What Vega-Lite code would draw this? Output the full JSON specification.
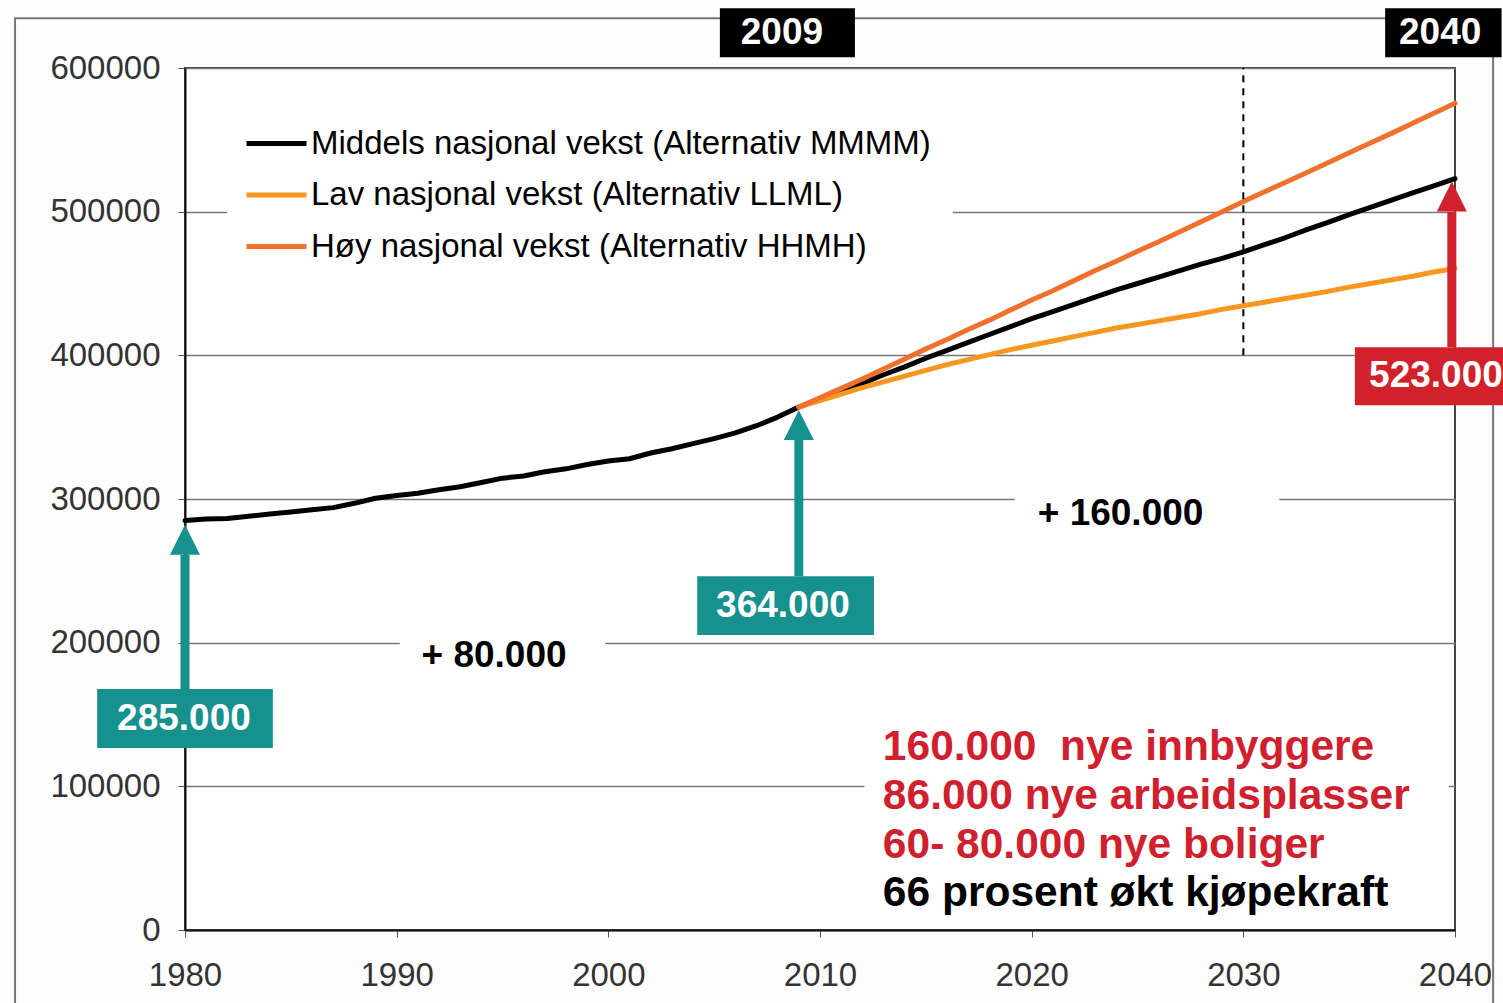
{
  "$schema": "https://vega.github.io/schema/vega-lite/v6.json",
  "width": 1270,
  "height": 862,
  "autosize": {"type": "none"},
  "padding": {"left": 185, "top": 68, "right": 48, "bottom": 73},
  "background": "#fdfdfd",
  "config": {
    "font": "Liberation Sans",
    "view": {"stroke": "#444", "strokeWidth": 2, "fill": "#ffffff"},
    "axis": {
      "labelFont": "Liberation Sans",
      "labelFontSize": 33,
      "labelColor": "#333333",
      "gridColor": "#777777",
      "gridWidth": 1.5,
      "tickColor": "#555555",
      "tickSize": 7,
      "domainColor": "#111111",
      "domainWidth": 2
    }
  },
  "datasets": {
    "series": [
      {"year": 1980, "value": 285000, "series": "Middels nasjonal vekst (Alternativ MMMM)"},
      {"year": 1981, "value": 286000, "series": "Middels nasjonal vekst (Alternativ MMMM)"},
      {"year": 1982, "value": 286500, "series": "Middels nasjonal vekst (Alternativ MMMM)"},
      {"year": 1983, "value": 288000, "series": "Middels nasjonal vekst (Alternativ MMMM)"},
      {"year": 1984, "value": 289500, "series": "Middels nasjonal vekst (Alternativ MMMM)"},
      {"year": 1985, "value": 291000, "series": "Middels nasjonal vekst (Alternativ MMMM)"},
      {"year": 1986, "value": 292500, "series": "Middels nasjonal vekst (Alternativ MMMM)"},
      {"year": 1987, "value": 294000, "series": "Middels nasjonal vekst (Alternativ MMMM)"},
      {"year": 1988, "value": 297000, "series": "Middels nasjonal vekst (Alternativ MMMM)"},
      {"year": 1989, "value": 300500, "series": "Middels nasjonal vekst (Alternativ MMMM)"},
      {"year": 1990, "value": 302500, "series": "Middels nasjonal vekst (Alternativ MMMM)"},
      {"year": 1991, "value": 304000, "series": "Middels nasjonal vekst (Alternativ MMMM)"},
      {"year": 1992, "value": 306500, "series": "Middels nasjonal vekst (Alternativ MMMM)"},
      {"year": 1993, "value": 308500, "series": "Middels nasjonal vekst (Alternativ MMMM)"},
      {"year": 1994, "value": 311500, "series": "Middels nasjonal vekst (Alternativ MMMM)"},
      {"year": 1995, "value": 314500, "series": "Middels nasjonal vekst (Alternativ MMMM)"},
      {"year": 1996, "value": 316000, "series": "Middels nasjonal vekst (Alternativ MMMM)"},
      {"year": 1997, "value": 319000, "series": "Middels nasjonal vekst (Alternativ MMMM)"},
      {"year": 1998, "value": 321000, "series": "Middels nasjonal vekst (Alternativ MMMM)"},
      {"year": 1999, "value": 324000, "series": "Middels nasjonal vekst (Alternativ MMMM)"},
      {"year": 2000, "value": 326500, "series": "Middels nasjonal vekst (Alternativ MMMM)"},
      {"year": 2001, "value": 328000, "series": "Middels nasjonal vekst (Alternativ MMMM)"},
      {"year": 2002, "value": 332000, "series": "Middels nasjonal vekst (Alternativ MMMM)"},
      {"year": 2003, "value": 335000, "series": "Middels nasjonal vekst (Alternativ MMMM)"},
      {"year": 2004, "value": 338500, "series": "Middels nasjonal vekst (Alternativ MMMM)"},
      {"year": 2005, "value": 342000, "series": "Middels nasjonal vekst (Alternativ MMMM)"},
      {"year": 2006, "value": 346000, "series": "Middels nasjonal vekst (Alternativ MMMM)"},
      {"year": 2007, "value": 351000, "series": "Middels nasjonal vekst (Alternativ MMMM)"},
      {"year": 2008, "value": 357000, "series": "Middels nasjonal vekst (Alternativ MMMM)"},
      {"year": 2009, "value": 364000, "series": "Middels nasjonal vekst (Alternativ MMMM)"},
      {"year": 2010, "value": 369500, "series": "Middels nasjonal vekst (Alternativ MMMM)"},
      {"year": 2011, "value": 375000, "series": "Middels nasjonal vekst (Alternativ MMMM)"},
      {"year": 2012, "value": 380500, "series": "Middels nasjonal vekst (Alternativ MMMM)"},
      {"year": 2013, "value": 386500, "series": "Middels nasjonal vekst (Alternativ MMMM)"},
      {"year": 2014, "value": 392000, "series": "Middels nasjonal vekst (Alternativ MMMM)"},
      {"year": 2015, "value": 398000, "series": "Middels nasjonal vekst (Alternativ MMMM)"},
      {"year": 2016, "value": 403500, "series": "Middels nasjonal vekst (Alternativ MMMM)"},
      {"year": 2017, "value": 409000, "series": "Middels nasjonal vekst (Alternativ MMMM)"},
      {"year": 2018, "value": 414500, "series": "Middels nasjonal vekst (Alternativ MMMM)"},
      {"year": 2019, "value": 420000, "series": "Middels nasjonal vekst (Alternativ MMMM)"},
      {"year": 2020, "value": 425500, "series": "Middels nasjonal vekst (Alternativ MMMM)"},
      {"year": 2021, "value": 430500, "series": "Middels nasjonal vekst (Alternativ MMMM)"},
      {"year": 2022, "value": 435500, "series": "Middels nasjonal vekst (Alternativ MMMM)"},
      {"year": 2023, "value": 440500, "series": "Middels nasjonal vekst (Alternativ MMMM)"},
      {"year": 2024, "value": 445500, "series": "Middels nasjonal vekst (Alternativ MMMM)"},
      {"year": 2025, "value": 450000, "series": "Middels nasjonal vekst (Alternativ MMMM)"},
      {"year": 2026, "value": 454500, "series": "Middels nasjonal vekst (Alternativ MMMM)"},
      {"year": 2027, "value": 459000, "series": "Middels nasjonal vekst (Alternativ MMMM)"},
      {"year": 2028, "value": 463500, "series": "Middels nasjonal vekst (Alternativ MMMM)"},
      {"year": 2029, "value": 467500, "series": "Middels nasjonal vekst (Alternativ MMMM)"},
      {"year": 2030, "value": 472000, "series": "Middels nasjonal vekst (Alternativ MMMM)"},
      {"year": 2031, "value": 477000, "series": "Middels nasjonal vekst (Alternativ MMMM)"},
      {"year": 2032, "value": 482000, "series": "Middels nasjonal vekst (Alternativ MMMM)"},
      {"year": 2033, "value": 487500, "series": "Middels nasjonal vekst (Alternativ MMMM)"},
      {"year": 2034, "value": 492500, "series": "Middels nasjonal vekst (Alternativ MMMM)"},
      {"year": 2035, "value": 498000, "series": "Middels nasjonal vekst (Alternativ MMMM)"},
      {"year": 2036, "value": 503000, "series": "Middels nasjonal vekst (Alternativ MMMM)"},
      {"year": 2037, "value": 508000, "series": "Middels nasjonal vekst (Alternativ MMMM)"},
      {"year": 2038, "value": 513000, "series": "Middels nasjonal vekst (Alternativ MMMM)"},
      {"year": 2039, "value": 518000, "series": "Middels nasjonal vekst (Alternativ MMMM)"},
      {"year": 2040, "value": 523000, "series": "Middels nasjonal vekst (Alternativ MMMM)"},
      {"year": 2009, "value": 364000, "series": "Lav nasjonal vekst (Alternativ LLML)"},
      {"year": 2010, "value": 368500, "series": "Lav nasjonal vekst (Alternativ LLML)"},
      {"year": 2011, "value": 373000, "series": "Lav nasjonal vekst (Alternativ LLML)"},
      {"year": 2012, "value": 377500, "series": "Lav nasjonal vekst (Alternativ LLML)"},
      {"year": 2013, "value": 381500, "series": "Lav nasjonal vekst (Alternativ LLML)"},
      {"year": 2014, "value": 385500, "series": "Lav nasjonal vekst (Alternativ LLML)"},
      {"year": 2015, "value": 389500, "series": "Lav nasjonal vekst (Alternativ LLML)"},
      {"year": 2016, "value": 393500, "series": "Lav nasjonal vekst (Alternativ LLML)"},
      {"year": 2017, "value": 397000, "series": "Lav nasjonal vekst (Alternativ LLML)"},
      {"year": 2018, "value": 400500, "series": "Lav nasjonal vekst (Alternativ LLML)"},
      {"year": 2019, "value": 404000, "series": "Lav nasjonal vekst (Alternativ LLML)"},
      {"year": 2020, "value": 407000, "series": "Lav nasjonal vekst (Alternativ LLML)"},
      {"year": 2021, "value": 410000, "series": "Lav nasjonal vekst (Alternativ LLML)"},
      {"year": 2022, "value": 413000, "series": "Lav nasjonal vekst (Alternativ LLML)"},
      {"year": 2023, "value": 416000, "series": "Lav nasjonal vekst (Alternativ LLML)"},
      {"year": 2024, "value": 419000, "series": "Lav nasjonal vekst (Alternativ LLML)"},
      {"year": 2025, "value": 421500, "series": "Lav nasjonal vekst (Alternativ LLML)"},
      {"year": 2026, "value": 424000, "series": "Lav nasjonal vekst (Alternativ LLML)"},
      {"year": 2027, "value": 426500, "series": "Lav nasjonal vekst (Alternativ LLML)"},
      {"year": 2028, "value": 429000, "series": "Lav nasjonal vekst (Alternativ LLML)"},
      {"year": 2029, "value": 432000, "series": "Lav nasjonal vekst (Alternativ LLML)"},
      {"year": 2030, "value": 434500, "series": "Lav nasjonal vekst (Alternativ LLML)"},
      {"year": 2031, "value": 437000, "series": "Lav nasjonal vekst (Alternativ LLML)"},
      {"year": 2032, "value": 439500, "series": "Lav nasjonal vekst (Alternativ LLML)"},
      {"year": 2033, "value": 442000, "series": "Lav nasjonal vekst (Alternativ LLML)"},
      {"year": 2034, "value": 444500, "series": "Lav nasjonal vekst (Alternativ LLML)"},
      {"year": 2035, "value": 447500, "series": "Lav nasjonal vekst (Alternativ LLML)"},
      {"year": 2036, "value": 450000, "series": "Lav nasjonal vekst (Alternativ LLML)"},
      {"year": 2037, "value": 452500, "series": "Lav nasjonal vekst (Alternativ LLML)"},
      {"year": 2038, "value": 455000, "series": "Lav nasjonal vekst (Alternativ LLML)"},
      {"year": 2039, "value": 458000, "series": "Lav nasjonal vekst (Alternativ LLML)"},
      {"year": 2040, "value": 460500, "series": "Lav nasjonal vekst (Alternativ LLML)"},
      {"year": 2009, "value": 364000, "series": "Høy nasjonal vekst (Alternativ HHMH)"},
      {"year": 2010, "value": 370500, "series": "Høy nasjonal vekst (Alternativ HHMH)"},
      {"year": 2011, "value": 377000, "series": "Høy nasjonal vekst (Alternativ HHMH)"},
      {"year": 2012, "value": 383500, "series": "Høy nasjonal vekst (Alternativ HHMH)"},
      {"year": 2013, "value": 390500, "series": "Høy nasjonal vekst (Alternativ HHMH)"},
      {"year": 2014, "value": 397500, "series": "Høy nasjonal vekst (Alternativ HHMH)"},
      {"year": 2015, "value": 404500, "series": "Høy nasjonal vekst (Alternativ HHMH)"},
      {"year": 2016, "value": 411000, "series": "Høy nasjonal vekst (Alternativ HHMH)"},
      {"year": 2017, "value": 418000, "series": "Høy nasjonal vekst (Alternativ HHMH)"},
      {"year": 2018, "value": 424500, "series": "Høy nasjonal vekst (Alternativ HHMH)"},
      {"year": 2019, "value": 431500, "series": "Høy nasjonal vekst (Alternativ HHMH)"},
      {"year": 2020, "value": 438500, "series": "Høy nasjonal vekst (Alternativ HHMH)"},
      {"year": 2021, "value": 445000, "series": "Høy nasjonal vekst (Alternativ HHMH)"},
      {"year": 2022, "value": 452000, "series": "Høy nasjonal vekst (Alternativ HHMH)"},
      {"year": 2023, "value": 459000, "series": "Høy nasjonal vekst (Alternativ HHMH)"},
      {"year": 2024, "value": 465500, "series": "Høy nasjonal vekst (Alternativ HHMH)"},
      {"year": 2025, "value": 472500, "series": "Høy nasjonal vekst (Alternativ HHMH)"},
      {"year": 2026, "value": 479000, "series": "Høy nasjonal vekst (Alternativ HHMH)"},
      {"year": 2027, "value": 486000, "series": "Høy nasjonal vekst (Alternativ HHMH)"},
      {"year": 2028, "value": 493000, "series": "Høy nasjonal vekst (Alternativ HHMH)"},
      {"year": 2029, "value": 500000, "series": "Høy nasjonal vekst (Alternativ HHMH)"},
      {"year": 2030, "value": 507000, "series": "Høy nasjonal vekst (Alternativ HHMH)"},
      {"year": 2031, "value": 513800, "series": "Høy nasjonal vekst (Alternativ HHMH)"},
      {"year": 2032, "value": 520500, "series": "Høy nasjonal vekst (Alternativ HHMH)"},
      {"year": 2033, "value": 527300, "series": "Høy nasjonal vekst (Alternativ HHMH)"},
      {"year": 2034, "value": 534000, "series": "Høy nasjonal vekst (Alternativ HHMH)"},
      {"year": 2035, "value": 541000, "series": "Høy nasjonal vekst (Alternativ HHMH)"},
      {"year": 2036, "value": 547800, "series": "Høy nasjonal vekst (Alternativ HHMH)"},
      {"year": 2037, "value": 554500, "series": "Høy nasjonal vekst (Alternativ HHMH)"},
      {"year": 2038, "value": 561500, "series": "Høy nasjonal vekst (Alternativ HHMH)"},
      {"year": 2039, "value": 568500, "series": "Høy nasjonal vekst (Alternativ HHMH)"},
      {"year": 2040, "value": 575500, "series": "Høy nasjonal vekst (Alternativ HHMH)"}
    ],
    "whiteBoxes": [
      {"x1": 1990.15, "x2": 1999.85, "y1": 208000, "y2": 174000},
      {"x1": 2019.2, "x2": 2031.7, "y1": 306000, "y2": 272000},
      {"x1": 2012.1, "x2": 2039.7, "y1": 147500, "y2": 10500}
    ],
    "arrows": [
      {"x": 1980, "base": 167700, "tip": 282000, "shaftTop": 261000, "kind": "teal"},
      {"x": 2009, "base": 246300, "tip": 362000, "shaftTop": 341000, "kind": "teal"},
      {"x": 2039.85, "base": 405700, "tip": 521000, "shaftTop": 500000, "kind": "red"}
    ],
    "boxes": [
      {"x1": 1975.85, "x2": 1984.15, "y1": 167700, "y2": 126600, "label": "285.000", "kind": "teal", "xc": 1979.95, "yc": 147200},
      {"x1": 2004.2, "x2": 2012.55, "y1": 246300, "y2": 205300, "label": "364.000", "kind": "teal", "xc": 2008.25, "yc": 225800},
      {"x1": 2035.27, "x2": 2043.0, "y1": 405700, "y2": 365300, "label": "523.000", "kind": "red", "xc": 2039.1, "yc": 385500},
      {"x1": 2005.27, "x2": 2011.65, "y1": 641600, "y2": 607500, "label": "2009", "kind": "black", "xc": 2008.2, "yc": 624500},
      {"x1": 2036.7, "x2": 2042.2, "y1": 641600, "y2": 607500, "label": "2040", "kind": "black", "xc": 2039.3, "yc": 624500}
    ],
    "plain": [
      {"x": 1994.6, "y": 190500, "label": "+ 80.000"},
      {"x": 2024.2, "y": 289300, "label": "+ 160.000"}
    ],
    "facts": [
      {"x": 2012.97, "y": 127300, "label": "160.000\u00a0 nye innbyggere", "kind": "red"},
      {"x": 2012.97, "y": 93200, "label": "86.000 nye arbeidsplasser", "kind": "red"},
      {"x": 2012.97, "y": 59100, "label": "60- 80.000 nye boliger", "kind": "red"},
      {"x": 2012.97, "y": 25700, "label": "66 prosent økt kjøpekraft", "kind": "black"}
    ],
    "frame": [
      {"x1": 1971.97, "x2": 2041.8, "y1": 634700, "y2": -60000}
    ],
    "marker": [
      {"year": 2030, "from": 400000, "to": 600000}
    ]
  },
  "layer": [
    {
      "data": {"name": "frame"},
      "mark": {"type": "rect", "fill": null, "stroke": "#777777", "strokeWidth": 2, "clip": false},
      "encoding": {
        "x": {"field": "x1", "type": "quantitative", "scale": {"domain": [1980, 2040], "nice": false, "zero": false}},
        "x2": {"field": "x2"},
        "y": {"field": "y1", "type": "quantitative", "scale": {"domain": [0, 600000], "nice": false}},
        "y2": {"field": "y2"}
      }
    },
    {
      "data": {"name": "whiteBoxes"},
      "mark": {"type": "rect", "fill": "#ffffff"},
      "encoding": {
        "x": {"field": "x1", "type": "quantitative"},
        "x2": {"field": "x2"},
        "y": {"field": "y1", "type": "quantitative"},
        "y2": {"field": "y2"}
      }
    },
    {
      "data": {"name": "series"},
      "mark": {"type": "line", "strokeWidth": 5, "strokeCap": "round", "strokeJoin": "round"},
      "encoding": {
        "x": {
          "field": "year", "type": "quantitative",
          "scale": {"domain": [1980, 2040], "nice": false, "zero": false},
          "axis": {"values": [1980, 1990, 2000, 2010, 2020, 2030, 2040], "format": "d", "title": null, "grid": false, "labelPadding": 22, "labelFlush": false}
        },
        "y": {
          "field": "value", "type": "quantitative",
          "scale": {"domain": [0, 600000], "nice": false},
          "axis": {"values": [0, 100000, 200000, 300000, 400000, 500000, 600000], "format": "d", "title": null, "grid": true, "labelPadding": 18}
        },
        "color": {
          "field": "series", "type": "nominal",
          "scale": {
            "domain": ["Middels nasjonal vekst (Alternativ MMMM)", "Lav nasjonal vekst (Alternativ LLML)", "Høy nasjonal vekst (Alternativ HHMH)"],
            "range": ["#000000", "#f7971f", "#f0712e"]
          },
          "legend": {
            "title": null,
            "orient": "none",
            "legendX": 42,
            "legendY": 26,
            "fillColor": "#ffffff",
            "padding": 22,
            "symbolType": "M-1.2,0L1.2,0",
            "symbolSize": 2500,
            "symbolStrokeWidth": 5,
            "labelFontSize": 33,
            "labelColor": "#000000",
            "labelFont": "Liberation Sans",
            "labelLimit": 900,
            "labelOffset": 7,
            "rowPadding": 6.5
          }
        },
        "order": {"field": "year", "type": "quantitative"}
      }
    },
    {
      "data": {"name": "marker"},
      "mark": {"type": "rule", "color": "#000000", "strokeWidth": 2, "strokeDash": [7, 6]},
      "encoding": {
        "x": {"field": "year", "type": "quantitative"},
        "y": {"field": "from", "type": "quantitative"},
        "y2": {"field": "to"}
      }
    },
    {
      "data": {"name": "arrows"},
      "mark": {"type": "rule", "strokeWidth": 9},
      "encoding": {
        "x": {"field": "x", "type": "quantitative"},
        "y": {"field": "base", "type": "quantitative"},
        "y2": {"field": "shaftTop"},
        "stroke": {"field": "kind", "type": "nominal", "scale": {"domain": ["teal", "red"], "range": ["#17918e", "#d1222c"]}, "legend": null}
      }
    },
    {
      "data": {"name": "arrows"},
      "mark": {"type": "point", "filled": true, "shape": "M0,0L1,2L-1,2Z", "size": 900, "opacity": 1, "strokeWidth": 0},
      "encoding": {
        "x": {"field": "x", "type": "quantitative"},
        "y": {"field": "tip", "type": "quantitative"},
        "fill": {"field": "kind", "type": "nominal", "scale": {"domain": ["teal", "red"], "range": ["#17918e", "#d1222c"]}, "legend": null}
      }
    },
    {
      "data": {"name": "boxes"},
      "mark": {"type": "rect"},
      "encoding": {
        "x": {"field": "x1", "type": "quantitative"},
        "x2": {"field": "x2"},
        "y": {"field": "y1", "type": "quantitative"},
        "y2": {"field": "y2"},
        "fill": {"field": "kind", "type": "nominal", "scale": {"domain": ["teal", "red", "black"], "range": ["#17918e", "#d1222c", "#000000"]}, "legend": null}
      }
    },
    {
      "data": {"name": "boxes"},
      "mark": {"type": "text", "color": "#ffffff", "fontSize": 37, "fontWeight": "bold", "font": "Liberation Sans", "align": "center", "baseline": "middle"},
      "encoding": {
        "x": {"field": "xc", "type": "quantitative"},
        "y": {"field": "yc", "type": "quantitative"},
        "text": {"field": "label"}
      }
    },
    {
      "data": {"name": "plain"},
      "mark": {"type": "text", "color": "#000000", "fontSize": 37, "fontWeight": "bold", "font": "Liberation Sans", "align": "center", "baseline": "middle"},
      "encoding": {
        "x": {"field": "x", "type": "quantitative"},
        "y": {"field": "y", "type": "quantitative"},
        "text": {"field": "label"}
      }
    },
    {
      "data": {"name": "facts"},
      "mark": {"type": "text", "fontSize": 42.5, "fontWeight": "bold", "font": "Liberation Sans", "align": "left", "baseline": "middle"},
      "encoding": {
        "x": {"field": "x", "type": "quantitative"},
        "y": {"field": "y", "type": "quantitative"},
        "text": {"field": "label"},
        "fill": {"field": "kind", "type": "nominal", "scale": {"domain": ["red", "black"], "range": ["#d0202e", "#000000"]}, "legend": null}
      }
    }
  ],
  "resolve": {"scale": {"fill": "independent", "color": "independent", "stroke": "independent"}}
}
